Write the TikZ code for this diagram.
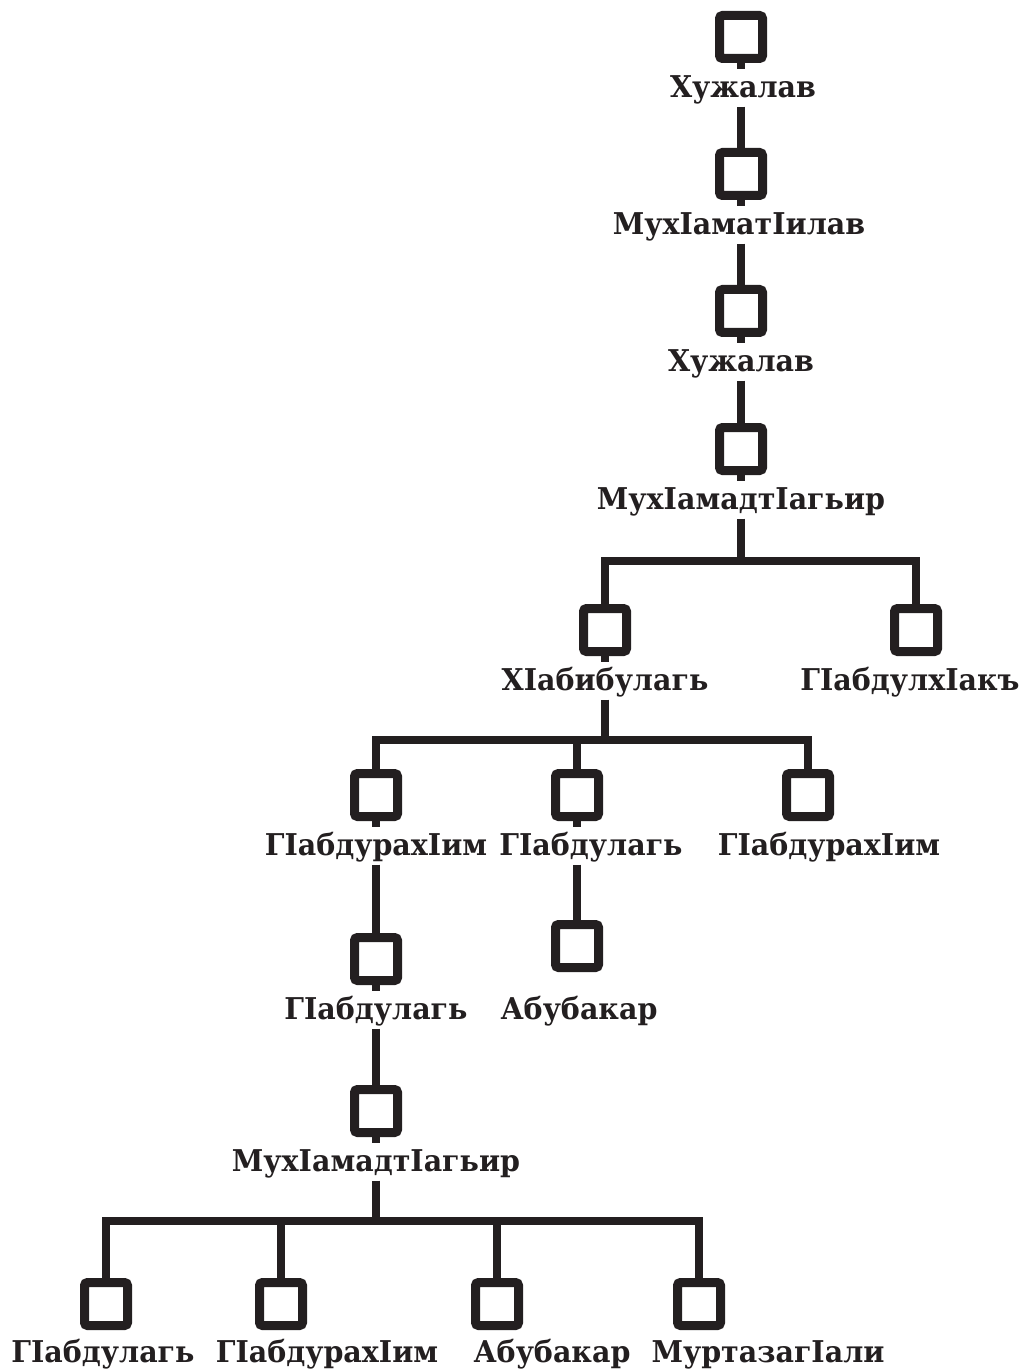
\documentclass[tikz,border=0pt]{standalone}
\usepackage{fontspec}
\setmainfont[FakeStretch=0.95]{DejaVu Serif}
\usepackage{tikz}
\usetikzlibrary{positioning}
\definecolor{ink}{HTML}{231F20}

\begin{document}
\begin{tikzpicture}[
  x=0.5pt, y=-0.5pt,
  every node/.style={font=\fontsize{15}{18}\selectfont\bfseries, text=ink},
  pbox/.style={draw=ink, line width=4.5pt, rounded corners=1.5pt,
    minimum size=21.5pt, inner sep=0pt},
  plabel/.style={inner sep=0pt, outer sep=2pt, text height=0.73em, text depth=0.25em},
  edge/.style={draw=ink, line width=4pt},
  stub/.style={draw=ink, line width=4pt}
]
  \useasboundingbox (0,0) rectangle (1025,1369);

  % --- Stammlinie ---
  \node (b1)  [pbox] at (741,37)  {};
  \node (l1)  [plabel, below=8pt of b1, xshift=1pt] {Хужалав};
  \node (b2)  [pbox] at (741,174) {};
  \node (l2)  [plabel, below=8pt of b2, xshift=-1pt] {МухIаматIилав};
  \node (b3)  [pbox] at (741,311) {};
  \node (l3)  [plabel, below=8pt of b3] {Хужалав};
  \node (b4)  [pbox] at (741,449) {};
  \node (l4)  [plabel, below=8pt of b4] {МухIамадтIагьир};

  % --- zweite Ebene ---
  \node (b5)  [pbox] at (605,630) {};
  \node (l5)  [plabel, below=8pt of b5] {ХIабибулагь};
  \node (b6)  [pbox] at (916,630) {};
  \node (l6)  [plabel, below=8pt of b6, xshift=-3pt] {ГIабдулхIакъ};

  % --- dritte Ebene ---
  \node (b7)  [pbox] at (376,795) {};
  \node (l7)  [plabel, below=8pt of b7] {ГIабдурахIим};
  \node (b8)  [pbox] at (577,795) {};
  \node (l8)  [plabel, below=8pt of b8, xshift=7pt] {ГIабдулагь};
  \node (b9)  [pbox] at (808,795) {};
  \node (l9)  [plabel, below=8pt of b9, xshift=10.5pt] {ГIабдурахIим};

  \node (b10) [pbox] at (376,959) {};
  \node (l10) [plabel, below=8pt of b10] {ГIабдулагь};
  \node (b11) [pbox] at (577,946) {};
  \node (l11) [plabel, below=14.5pt of b11, xshift=1pt] {Абубакар};

  \node (b12) [pbox] at (376,1111) {};
  \node (l12) [plabel, below=8pt of b12] {МухIамадтIагьир};

  % --- letzte Ebene ---
  \node (b13) [pbox] at (106,1304) {};
  \node (l13) [plabel, below=7pt of b13, xshift=-1.5pt] {ГIабдулагь};
  \node (b14) [pbox] at (281,1304) {};
  \node (l14) [plabel, below=7pt of b14, xshift=23pt] {ГIабдурахIим};
  \node (b15) [pbox] at (497,1304) {};
  \node (l15) [plabel, below=7pt of b15, xshift=27.5pt] {Абубакар};
  \node (b16) [pbox] at (699,1304) {};
  \node (l16) [plabel, below=7pt of b16, xshift=34.5pt] {МуртазагIали};

  % Stummel unter Eltern
  \foreach \b in {b1,b2,b3,b4,b5,b7,b8,b10,b12}
    \draw[stub] (\b.south) -- ++(0,6);

  % Verbindungen
  \coordinate (bar1) at (741,561);
  \coordinate (bar2) at (605,740);
  \coordinate (bar3) at (376,1221);

  \draw[edge] (l1.south -| b1) -- (b2.north);
  \draw[edge] (l2.south -| b2) -- (b3.north);
  \draw[edge] (l3.south -| b3) -- (b4.north);
  \draw[edge] (l4.south -| b4) -- (bar1);
  \draw[edge] (b5.north) |- (bar1) -| (b6.north);

  \draw[edge] (l5.south -| b5) -- (bar2);
  \draw[edge] (b7.north) |- (bar2) -| (b9.north);
  \draw[edge] (bar2 -| b8) -- (b8.north);

  \draw[edge] (l7.south -| b7) -- (b10.north);
  \draw[edge] (l8.south -| b8) -- (b11.north);
  \draw[edge] (l10.south -| b10) -- (b12.north);

  \draw[edge] (l12.south -| b12) -- (bar3);
  \draw[edge] (b13.north) |- (bar3) -| (b16.north);
  \draw[edge] (bar3 -| b14) -- (b14.north);
  \draw[edge] (bar3 -| b15) -- (b15.north);
\end{tikzpicture}
\end{document}
